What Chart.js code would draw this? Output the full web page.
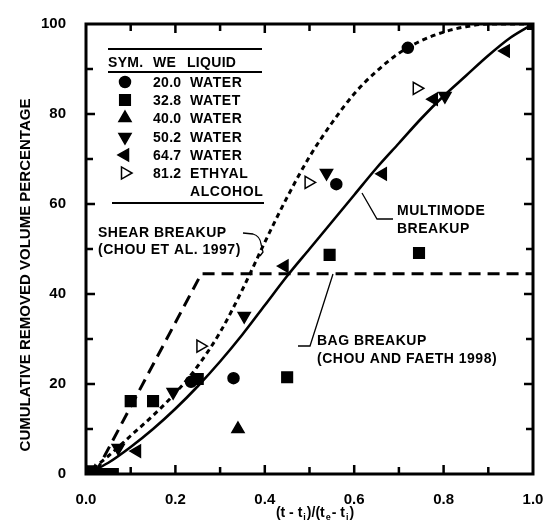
<!DOCTYPE html>
<html>
<head>
<meta charset="utf-8">
<script src="https://cdn.jsdelivr.net/npm/chart.js@4.4.1/dist/chart.umd.min.js"></script>
<style>
html,body{margin:0;padding:0;background:#fff;}
#wrap{width:545px;height:525px;}
</style>
</head>
<body>
<div id="wrap"><canvas id="c" width="545" height="525"></canvas></div>
<script>
// ---------- data ----------
const curveX     = [0,0.05,0.1,0.15,0.2,0.25,0.3,0.35,0.4,0.45,0.5,0.55,0.6,0.65,0.7,0.75,0.8,0.85,0.9,0.95,1.0];
const multimodeY = [0,2.5,6,10,14.5,19.5,25,31,37.5,44,50,56,62,68,73.5,79,84,88.5,93,97,100];
const shearY     = [0,4,8.5,13,18,24,31.5,41,51.5,61.5,70.5,78,84.5,89.5,93.5,96.3,98.2,99.4,100,100,100];
const bagX = [0.02, 0.258, 1.0];
const bagY = [0, 44.5, 44.5];

const we20X = [0.0, 0.235, 0.33, 0.56, 0.72];
const we20Y = [0.5, 20.5, 21.3, 64.4, 94.7];
const we33X = [0.01, 0.04, 0.06, 0.10, 0.15, 0.25, 0.45, 0.545, 0.745, 1.0];
const we33Y = [0, 0, 0, 16.2, 16.2, 21.1, 21.5, 48.7, 49.1, 100];
const we40X = [0.02, 0.34];
const we40Y = [0.5, 10];
const we50X = [0.01, 0.072, 0.195, 0.354, 0.538, 0.803];
const we50Y = [1, 5.8, 18.2, 35.1, 66.9, 84];
const we65X = [0.0, 0.114, 0.444, 0.664, 0.778, 0.939];
const we65Y = [0, 5.1, 46.2, 66.7, 83.3, 94];
const we81X = [0.256, 0.498, 0.74];
const we81Y = [28.4, 64.8, 85.7];

const xTicks = [0, 0.2, 0.4, 0.6, 0.8, 1.0];
const yTicks = [0, 20, 40, 60, 80, 100];

const legendWe = ["20.0", "32.8", "40.0", "50.2", "64.7", "81.2"];
const legendLiquid = ["WATER", "WATET", "WATER", "WATER", "WATER", "ETHYAL"];

// ---------- styling ----------
const FONT = "'Liberation Sans', Arial, Helvetica, sans-serif";
const pts = (xs, ys) => xs.map((x, i) => ({x: x, y: ys[i]}));

const symbolStyles = [
  {pointStyle: 'circle',   rotation: 0,   radius: 5.5, fill: '#000'},
  {pointStyle: 'rect',     rotation: 0,   radius: 7.5, fill: '#000'},
  {pointStyle: 'triangle', rotation: 0,   radius: 7,   fill: '#000'},
  {pointStyle: 'triangle', rotation: 180, radius: 7,   fill: '#000'},
  {pointStyle: 'triangle', rotation: 270, radius: 7,   fill: '#000'},
  {pointStyle: 'triangle', rotation: 90,  radius: 7,   fill: '#fff'}
];
const seriesX = [we20X, we33X, we40X, we50X, we65X, we81X];
const seriesY = [we20Y, we33Y, we40Y, we50Y, we65Y, we81Y];

const pointDatasets = seriesX.map((xs, i) => {
  const s = symbolStyles[i];
  return {
    label: 'We ' + legendWe[i],
    data: pts(xs, seriesY[i]),
    showLine: false,
    pointStyle: s.pointStyle,
    pointRotation: s.rotation,
    pointRadius: s.radius,
    pointHoverRadius: s.radius,
    pointBackgroundColor: s.fill,
    pointBorderColor: '#000',
    pointBorderWidth: 1.5,
    order: 1
  };
});

const lineDatasets = [
  {label: 'Multimode', data: pts(curveX, multimodeY), showLine: true, borderColor: '#000', borderWidth: 2.6,
   pointRadius: 0, cubicInterpolationMode: 'monotone', fill: false, order: 2},
  {label: 'Shear', data: pts(curveX, shearY), showLine: true, borderColor: '#000', borderWidth: 3,
   borderDash: [5, 4], pointRadius: 0, cubicInterpolationMode: 'monotone', fill: false, order: 2},
  {label: 'Bag', data: pts(bagX, bagY), showLine: true, borderColor: '#000', borderWidth: 3,
   borderDash: [12, 7], pointRadius: 0, tension: 0, fill: false, order: 2}
];

function txt(ctx, s, x, y, size, opts) {
  opts = opts || {};
  ctx.save();
  ctx.font = 'bold ' + size + 'px ' + FONT;
  ctx.fillStyle = '#000';
  ctx.textAlign = opts.align || 'left';
  ctx.textBaseline = opts.baseline || 'alphabetic';
  try { ctx.letterSpacing = (opts.ls || 0) + 'px'; } catch (e) {}
  ctx.fillText(s, x, y);
  ctx.restore();
}

const decorPlugin = {
  id: 'decor',
  afterDraw(chart) {
    const ctx = chart.ctx;
    const a = chart.chartArea;
    const xs = chart.scales.x, ys = chart.scales.y;
    ctx.save();
    ctx.strokeStyle = '#000';
    ctx.lineCap = 'butt';
    // frame
    ctx.lineWidth = 3;
    ctx.strokeRect(a.left, a.top, a.right - a.left, a.bottom - a.top);
    // inward ticks
    ctx.lineWidth = 2.5;
    for (let i = 1; i < 10; i++) {
      const v = i / 10;
      const px = xs.getPixelForValue(v);
      const len = (i % 2 === 0) ? 9 : 7;
      ctx.beginPath();
      ctx.moveTo(px, a.bottom); ctx.lineTo(px, a.bottom - len);
      ctx.moveTo(px, a.top); ctx.lineTo(px, a.top + len);
      ctx.stroke();
    }
    for (let i = 1; i < 10; i++) {
      const v = i * 10;
      const py = ys.getPixelForValue(v);
      const len = (i % 2 === 0) ? 9 : 7;
      ctx.beginPath();
      ctx.moveTo(a.left, py); ctx.lineTo(a.left + len, py);
      ctx.moveTo(a.right, py); ctx.lineTo(a.right - len, py);
      ctx.stroke();
    }

    // legend table
    ctx.lineWidth = 2;
    ctx.beginPath();
    ctx.moveTo(108, 49); ctx.lineTo(262, 49);
    ctx.moveTo(108, 72); ctx.lineTo(262, 72);
    ctx.moveTo(112, 203); ctx.lineTo(264, 203);
    ctx.stroke();
    txt(ctx, 'SYM.', 108, 67, 14, {ls: 0.3});
    txt(ctx, 'WE', 153, 67, 14, {ls: 0.3});
    txt(ctx, 'LIQUID', 187, 67, 14, {ls: 0.3});
    const rowBase = [87, 105, 123, 142, 160, 178];
    for (let i = 0; i < 6; i++) {
      const s = symbolStyles[i];
      ctx.save();
      ctx.fillStyle = s.fill;
      ctx.strokeStyle = '#000';
      ctx.lineWidth = 1.5;
      Chart.helpers.drawPoint(ctx, {pointStyle: s.pointStyle, rotation: s.rotation, radius: s.radius, borderWidth: 1.5}, 125, rowBase[i] - 5);
      ctx.restore();
      txt(ctx, legendWe[i], 153, rowBase[i], 14, {ls: 0.3});
      txt(ctx, legendLiquid[i], 190, rowBase[i], 14, {ls: 0.6});
    }
    txt(ctx, 'ALCOHOL', 190, 196, 14, {ls: 0.6});

    // annotations
    txt(ctx, 'SHEAR BREAKUP', 98, 237, 14, {ls: 0.5});
    txt(ctx, '(CHOU ET AL. 1997)', 98, 254, 14, {ls: 0.5});
    txt(ctx, 'MULTIMODE', 397, 215, 14, {ls: 0.5});
    txt(ctx, 'BREAKUP', 397, 233, 14, {ls: 0.5});
    txt(ctx, 'BAG BREAKUP', 317, 345, 14, {ls: 0.5});
    txt(ctx, '(CHOU AND FAETH 1998)', 317, 363, 14, {ls: 0.5});

    // leader lines
    ctx.lineWidth = 1.3;
    ctx.beginPath();
    ctx.moveTo(243, 233); ctx.lineTo(253, 234);
    ctx.quadraticCurveTo(260, 236, 261, 244);
    ctx.lineTo(263, 252);
    ctx.lineTo(260, 256);
    ctx.stroke();
    ctx.beginPath();
    ctx.moveTo(362, 193); ctx.lineTo(377, 219); ctx.lineTo(393, 219);
    ctx.stroke();
    ctx.beginPath();
    ctx.moveTo(333, 274); ctx.lineTo(310, 346); ctx.lineTo(298, 346);
    ctx.stroke();

    // axis titles
    ctx.save();
    ctx.translate(26, 275);
    ctx.rotate(-Math.PI / 2);
    txt(ctx, 'CUMULATIVE REMOVED VOLUME PERCENTAGE', 0, 0, 15, {align: 'center', baseline: 'middle'});
    ctx.restore();

    // x title with subscripts
    const parts = [['(t - t', 0], ['i', 1], [')/(t', 0], ['e', 1], ['- t', 0], ['i', 1], [')', 0]];
    ctx.save();
    let total = 0;
    const widths = parts.map(p => {
      ctx.font = 'bold ' + (p[1] ? 9 : 14) + 'px ' + FONT;
      const w = ctx.measureText(p[0]).width + (p[1] ? 2 : 0);
      total += w;
      return w;
    });
    let x = 315 - total / 2;
    parts.forEach((p, i) => {
      txt(ctx, p[0], x + (p[1] ? 1 : 0), p[1] ? 520 : 517, p[1] ? 9 : 14);
      x += widths[i];
    });
    ctx.restore();

    ctx.restore();
  }
};

new Chart(document.getElementById('c'), {
  type: 'scatter',
  data: {datasets: pointDatasets.concat(lineDatasets)},
  options: {
    responsive: false,
    animation: false,
    events: [],
    layout: {padding: {top: 24, right: 12, left: 0, bottom: 0}, autoPadding: false},
    plugins: {legend: {display: false}, tooltip: {enabled: false}, title: {display: false}},
    scales: {
      x: {
        type: 'linear', min: 0, max: 1,
        afterFit: s => { s.height = 51; s.paddingLeft = 0; s.paddingRight = 0; },
        afterBuildTicks: s => { s.ticks = xTicks.map(v => ({value: v})); },
        ticks: {callback: v => Number(v).toFixed(1), color: '#000', font: {family: FONT, size: 15, weight: 'bold'}, padding: 9, maxRotation: 0, autoSkip: false},
        grid: {display: false},
        border: {display: false}
      },
      y: {
        type: 'linear', min: 0, max: 100,
        afterFit: s => { s.width = 86; s.paddingTop = 0; s.paddingBottom = 0; },
        afterBuildTicks: s => { s.ticks = yTicks.map(v => ({value: v})); },
        ticks: {color: '#000', font: {family: FONT, size: 15, weight: 'bold'}, padding: 12, autoSkip: false},
        grid: {display: false},
        border: {display: false}
      }
    }
  },
  plugins: [decorPlugin]
});
</script>
</body>
</html>
